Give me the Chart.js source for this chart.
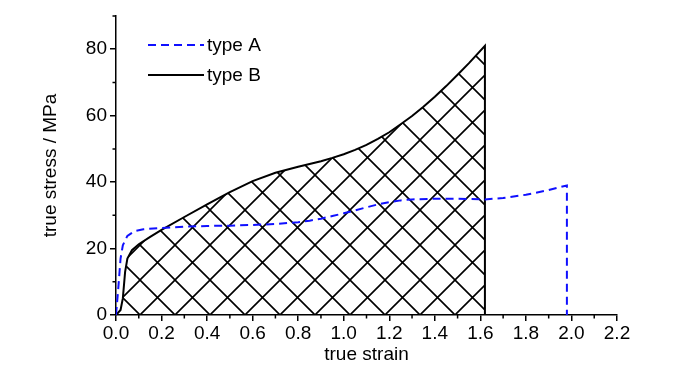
<!DOCTYPE html>
<html>
<head>
<meta charset="UTF-8">
<title>true stress vs true strain</title>
<script src="https://cdn.jsdelivr.net/npm/chart.js"></script>
<style>
  html, body { margin: 0; padding: 0; background: #fff; }
  #wrap { width: 700px; height: 374px; }
</style>
</head>
<body>
<div id="wrap"><canvas id="grafico"></canvas></div>
<script>
// dados
const strainA = [0, 0.01, 0.02, 0.03, 0.05, 0.08, 0.12, 0.2, 0.3, 0.4, 0.5, 0.6, 0.7, 0.8, 0.85, 0.9, 0.95, 1.0, 1.05, 1.1, 1.15, 1.2, 1.25, 1.3, 1.4, 1.5, 1.62, 1.7, 1.8, 1.9, 1.98, 1.98];
const stressA = [0, 8, 17, 21, 23.8, 25.2, 25.8, 26.2, 26.6, 26.8, 26.9, 27.1, 27.4, 27.9, 28.4, 29.0, 29.8, 30.6, 31.5, 32.4, 33.3, 34.0, 34.5, 34.8, 35.0, 35.0, 34.8, 35.2, 36.2, 37.6, 39, 0];

const strainB = [0, 0.02, 0.03, 0.04, 0.05, 0.07, 0.1, 0.15, 0.2, 0.3, 0.4, 0.5, 0.6, 0.7, 0.8, 0.9, 0.95, 1.0, 1.05, 1.1, 1.15, 1.2, 1.25, 1.3, 1.35, 1.4, 1.45, 1.5, 1.55, 1.62, 1.62];
const stressB = [0, 1.5, 5, 13, 17, 19.5, 21.3, 23.5, 25.6, 29.5, 33.3, 37, 40.3, 42.8, 44.6, 46.3, 47.3, 48.4, 49.7, 51.2, 53, 55, 57.4, 59.9, 62.7, 65.7, 68.9, 72.3, 75.8, 81, 0];

const seriesNames = ['type A', 'type B'];
const xLabel = 'true strain';
const yLabel = 'true stress / MPa';

const fonte = "'Liberation Sans Narrow', 'Liberation Sans', Arial, sans-serif";

function pontos(xs, ys) {
    return xs.map(function (x, i) { return { x: x, y: ys[i] }; });
}

// padrão de hachura cruzada
function hachura() {
    const t = 35;
    const c = document.createElement('canvas');
    c.width = t; c.height = t;
    const g = c.getContext('2d');
    g.strokeStyle = '#000';
    g.lineWidth = 1.6;
    g.beginPath();
    g.moveTo(-2, -2); g.lineTo(t + 2, t + 2);
    g.moveTo(-2, t + 2); g.lineTo(t + 2, -2);
    g.stroke();
    return g.createPattern(c, 'repeat');
}

// ticks menores + legenda dentro do gráfico
const extras = {
    id: 'extras',
    afterDraw(chart) {
        const ctx = chart.ctx;
        const sx = chart.scales.x, sy = chart.scales.y;
        const area = chart.chartArea;
        ctx.save();
        ctx.strokeStyle = '#000';
        ctx.lineWidth = 1.5;
        ctx.beginPath();
        for (let v = 0.1; v < 2.2; v += 0.2) {
            const px = sx.getPixelForValue(v);
            ctx.moveTo(px, area.bottom); ctx.lineTo(px, area.bottom + 3.5);
        }
        for (let v = 10; v <= 90; v += 20) {
            const py = sy.getPixelForValue(v);
            ctx.moveTo(area.left, py); ctx.lineTo(area.left - 3.5, py);
        }
        ctx.stroke();

        // legenda
        const ys = [45, 75];
        chart.data.datasets.forEach(function (ds, i) {
            ctx.beginPath();
            ctx.strokeStyle = ds.borderColor;
            ctx.lineWidth = ds.borderWidth;
            ctx.setLineDash(ds.borderDash || []);
            ctx.moveTo(148, ys[i]); ctx.lineTo(204, ys[i]);
            ctx.stroke();
            ctx.setLineDash([]);
            ctx.fillStyle = '#000';
            ctx.font = '19px ' + fonte;
            ctx.textBaseline = 'middle';
            ctx.fillText(ds.label, 207, ys[i] + 1);
        });
        ctx.restore();
    }
};

const dados = {
    datasets: [{
        label: seriesNames[0],
        data: pontos(strainA, stressA),
        borderColor: '#1010ff',
        borderWidth: 2,
        borderDash: [8, 5],
        pointRadius: 0,
        showLine: true,
        fill: false,
        tension: 0
    }, {
        label: seriesNames[1],
        data: pontos(strainB, stressB),
        borderColor: '#000',
        borderWidth: 2,
        pointRadius: 0,
        showLine: true,
        fill: 'origin',
        backgroundColor: hachura(),
        tension: 0
    }]
};

const config = {
    type: 'scatter',
    data: dados,
    plugins: [extras],
    options: {
        responsive: false,
        animation: false,
        layout: { padding: { top: 16, right: 83, left: 0, bottom: 0 } },
        plugins: {
            legend: { display: false },
            tooltip: { enabled: false }
        },
        scales: {
            x: {
                type: 'linear',
                min: 0, max: 2.2,
                afterFit: function (s) { s.height = 59; },
                border: { display: true, color: '#000', width: 1.5 },
                grid: { drawOnChartArea: false, drawTicks: true, tickLength: 6, color: '#000', lineWidth: 1.5 },
                ticks: {
                    stepSize: 0.2,
                    color: '#000',
                    padding: 1,
                    maxRotation: 0,
                    font: { family: fonte, size: 19 },
                    callback: function (v) { return v.toFixed(1); }
                },
                title: {
                    display: true, text: xLabel, color: '#000',
                    font: { family: fonte, size: 19 },
                    padding: { top: 0, bottom: 8 }
                }
            },
            y: {
                type: 'linear',
                min: 0, max: 90,
                afterFit: function (s) { s.width = 116; },
                border: { display: true, color: '#000', width: 1.5 },
                grid: { drawOnChartArea: false, drawTicks: true, tickLength: 6, color: '#000', lineWidth: 1.5 },
                ticks: {
                    stepSize: 20,
                    includeBounds: false,
                    color: '#000',
                    padding: 3,
                    font: { family: fonte, size: 19 }
                },
                title: {
                    display: true, text: yLabel, color: '#000',
                    font: { family: fonte, size: 19 },
                    padding: { top: 39, bottom: 0 }
                }
            }
        }
    }
};

const canvas = document.getElementById('grafico');
canvas.width = 700;
canvas.height = 374;
new Chart(canvas, config);
</script>
</body>
</html>
